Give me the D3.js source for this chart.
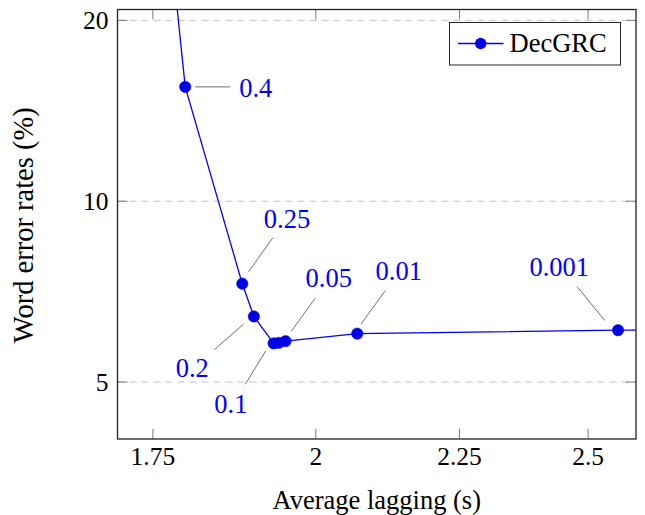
<!DOCTYPE html>
<html>
<head>
<meta charset="utf-8">
<script src="https://cdn.jsdelivr.net/npm/d3@7"></script>
<style>
  html, body { margin: 0; padding: 0; background: #fff; }
  svg { display: block; }
</style>
</head>
<body>
<svg id="chart" width="645" height="515"></svg>
<script>
// ---- data ----
const lambdas   = ["0.5", "0.4", "0.25", "0.2", "0.1", "0.075", "0.05", "0.01", "0.001", "0.0001"];
const lagging   = [1.771, 1.797, 1.883, 1.901, 1.932, 1.940, 1.951, 2.069, 2.562, 2.70];
const wer       = [30.0, 15.5, 7.29, 6.43, 5.80, 5.81, 5.85, 6.02, 6.10, 6.11];
const shownLabels = ["0.4", "0.25", "0.2", "0.1", "0.05", "0.01", "0.001"];
const xTicks    = [1.75, 2, 2.25, 2.5];
const xTickLabels = ["1.75", "2", "2.25", "2.5"];
const yTicks    = [5, 10, 20];
const yTickLabels = ["5", "10", "20"];
const seriesName = "DecGRC";

// annotation styling: leader start/end offsets and text anchor offsets (pixels, relative to point)
const annot = {
  "0.4":   {l: [10, 0, 45, 0],        t: [54, 10], a: "start"},
  "0.25":  {l: [6.3, -12, 30.6, -46], t: [21.6, -56], a: "start"},
  "0.2":   {l: [-10.3, 7.7, -39.3, 33], t: [-45, 60.3], a: "end"},
  "0.1":   {l: [-7.8, 7.5, -28.2, 40.8], t: [-26.2, 69.2], a: "end"},
  "0.05":  {l: [5.7, -9.7, 29.7, -43], t: [20, -54], a: "start"},
  "0.01":  {l: [3.6, -9.3, 28.3, -43.3], t: [18.3, -54], a: "start"},
  "0.001": {l: [-13.3, -9.7, -41, -43.7], t: [-29, -54], a: "end"}
};

const data = lagging.map((x, i) => ({x, y: wer[i], lam: lambdas[i]}));

// ---- layout ----
const L = 117.5, R = 636, T = 9.5, B = 439;
const FONT = "'Liberation Serif', 'Times New Roman', Times, serif";
const svg = d3.select("#chart").attr("font-family", FONT).style("font-family", FONT);

const x = d3.scaleLog().domain([1.7, 2.6]).range([L, R]);
const y = d3.scaleLog().domain([4.02, 20.85]).range([B, T]);

// clip
svg.append("defs").append("clipPath").attr("id", "plotclip")
  .append("rect").attr("x", L).attr("y", T).attr("width", R - L).attr("height", B - T);

// grid
svg.append("g").selectAll("line").data(yTicks).join("line")
  .attr("x1", L).attr("x2", R)
  .attr("y1", d => y(d)).attr("y2", d => y(d))
  .attr("stroke", "#c4c4c4").attr("stroke-width", 1)
  .attr("stroke-dasharray", "7,5");

// ticks (inward, both sides)
const tickLen = 10;
const tg = svg.append("g").attr("stroke", "#7a7a7a").attr("stroke-width", 1);
xTicks.forEach(t => {
  tg.append("line").attr("x1", x(t)).attr("x2", x(t)).attr("y1", B).attr("y2", B - tickLen);
  tg.append("line").attr("x1", x(t)).attr("x2", x(t)).attr("y1", T).attr("y2", T + tickLen);
});
yTicks.forEach(t => {
  tg.append("line").attr("x1", L).attr("x2", L + tickLen).attr("y1", y(t)).attr("y2", y(t));
  tg.append("line").attr("x1", R).attr("x2", R - tickLen).attr("y1", y(t)).attr("y2", y(t));
});

// tick labels
svg.append("g").selectAll("text").data(xTicks).join("text")
  .attr("x", d => x(d)).attr("y", 465)
  .attr("text-anchor", "middle").attr("font-size", 25.5).attr("fill", "#000")
  .style("font-family", FONT)
  .text((d, i) => xTickLabels[i]);
svg.append("g").selectAll("text").data(yTicks).join("text")
  .attr("x", 108.5).attr("y", d => y(d) + 9)
  .attr("text-anchor", "end").attr("font-size", 25.5).attr("fill", "#000")
  .style("font-family", FONT)
  .text((d, i) => yTickLabels[i]);

// axis titles
svg.append("text").attr("x", (L + R) / 2).attr("y", 509)
  .attr("text-anchor", "middle").attr("font-size", 26.5)
  .style("font-family", FONT).text("Average lagging (s)");
svg.append("text")
  .attr("transform", `translate(33,${(T + B) / 2 + 1}) rotate(-90)`)
  .attr("text-anchor", "middle").attr("font-size", 28.5)
  .style("font-family", FONT).text("Word error rates (%)");

// series
const plot = svg.append("g").attr("clip-path", "url(#plotclip)");
plot.append("path").datum(data)
  .attr("fill", "none").attr("stroke", "#0000ff").attr("stroke-width", 1.3)
  .attr("d", d3.line().x(d => x(d.x)).y(d => y(d.y)));
plot.selectAll("circle").data(data).join("circle")
  .attr("cx", d => x(d.x)).attr("cy", d => y(d.y)).attr("r", 5.7)
  .attr("fill", "#0000e6").attr("stroke", "#0000e6").attr("stroke-width", 0.5);

// annotations
const ag = svg.append("g");
data.filter(d => shownLabels.includes(d.lam)).forEach(d => {
  const a = annot[d.lam];
  const px = x(d.x), py = y(d.y);
  ag.append("line")
    .attr("x1", px + a.l[0]).attr("y1", py + a.l[1])
    .attr("x2", px + a.l[2]).attr("y2", py + a.l[3])
    .attr("stroke", "#6e6e6e").attr("stroke-width", 1);
  ag.append("text")
    .attr("x", px + a.t[0]).attr("y", py + a.t[1])
    .attr("text-anchor", a.a).attr("font-size", 26.5).attr("fill", "#0000ff")
    .style("font-family", FONT)
    .text(d.lam);
});

// frame
svg.append("rect").attr("x", L).attr("y", T).attr("width", R - L).attr("height", B - T)
  .attr("fill", "none").attr("stroke", "#222").attr("stroke-width", 1.3);

// legend
const lg = svg.append("g");
lg.append("rect").attr("x", 449.5).attr("y", 22.5).attr("width", 171).attr("height", 42.5)
  .attr("fill", "#fff").attr("stroke", "#222").attr("stroke-width", 1);
lg.append("line").attr("x1", 458).attr("x2", 503.5).attr("y1", 43.5).attr("y2", 43.5)
  .attr("stroke", "#0000ff").attr("stroke-width", 1.3);
lg.append("circle").attr("cx", 480.7).attr("cy", 43.5).attr("r", 5.7).attr("fill", "#0000e6");
lg.append("text").attr("x", 509.5).attr("y", 52).attr("font-size", 26.5)
  .style("font-family", FONT).text(seriesName);
</script>
</body>
</html>
